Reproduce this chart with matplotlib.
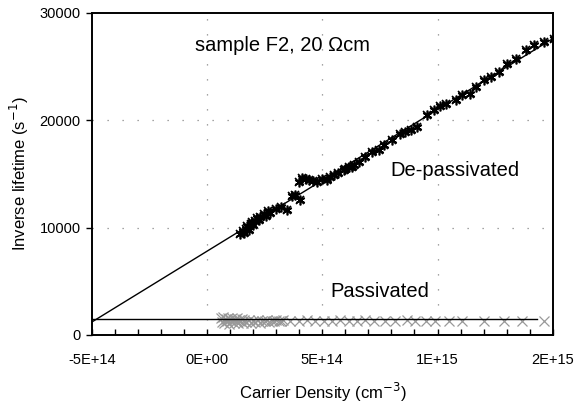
import matplotlib
matplotlib.use("Agg")
import matplotlib.pyplot as plt
from matplotlib.ticker import MultipleLocator, FixedLocator, FixedFormatter
import numpy as np

plt.rcParams['font.family'] = ['Liberation Sans', 'DejaVu Sans']

# ---------------- data ----------------
# De-passivated (carrier density in 1e14 cm^-3, inverse lifetime s^-1)
dep_x = [1.45, 1.55, 1.6, 1.7, 1.75, 1.8, 1.9, 1.95, 2.0, 2.1, 2.15, 2.25, 2.3, 2.45,
         2.55, 2.65, 2.75, 3.0, 3.2, 3.47, 3.7, 3.83, 4.04, 3.97, 4.12, 4.3, 4.41, 4.6,
         4.77, 5.0, 5.2, 5.35, 5.49, 5.7, 5.93, 6.0, 6.15, 6.29, 6.36, 6.58, 6.87, 7.16,
         7.45, 7.67, 8.03, 8.39, 8.6, 8.83, 9.12, 9.55, 9.84, 10.1, 10.35, 10.78, 11.07,
         11.43, 11.65, 12.01, 12.30, 12.67, 13.03, 13.39, 13.83, 14.19, 14.63, 15.06]
dep_y = [9400, 9700, 9500, 9900, 10100, 9800, 10300, 10500, 10200, 10600, 10900, 10700,
         11000, 11300, 11100, 11500, 11400, 11700, 11900, 11630, 12900, 13000, 12560,
         14260, 14580, 14500, 14420, 14300, 14260, 14500, 14420, 14700, 14880, 15100,
         15350, 15500, 15600, 15660, 15810, 16120, 16590, 17050, 17210, 17670, 18140,
         18760, 18900, 19070, 19380, 20470, 20930, 21300, 21500, 21860, 22330, 22480,
         23100, 23720, 24030, 24500, 25270, 25740, 26510, 26980, 27290, 27600]

# Passivated
pas_x = [0.6, 0.65, 0.7, 0.75, 0.8, 0.85, 0.9, 0.95, 1.0, 1.05, 1.1, 1.15, 1.2, 1.25,
         1.3, 1.35, 1.4, 1.45, 1.5, 1.55, 1.6, 1.7, 1.8, 1.9, 2.0, 2.1, 2.2, 2.3, 2.4,
         2.5, 2.6, 2.7, 2.8, 2.9, 3.0, 3.1, 3.2, 3.3, 3.61, 3.97, 4.33, 4.70, 5.06, 5.42,
         5.78, 6.14, 6.51, 6.87, 7.23, 7.74, 8.17, 8.68, 9.04, 9.48, 9.91, 10.49, 11.07,
         12.01, 12.88, 13.68, 14.62]
pas_y = [1550, 1200, 1650, 1100, 1500, 1300, 1600, 1050, 1450, 1250, 1600, 1150, 1500,
         1300, 1550, 1100, 1400, 1250, 1450, 1150, 1350, 1200, 1400, 1100, 1300, 1200,
         1350, 1150, 1300, 1250, 1350, 1200, 1300, 1250, 1350, 1300, 1250, 1350, 1300,
         1300, 1350, 1300, 1320, 1300, 1350, 1300, 1320, 1350, 1300, 1330, 1300, 1350,
         1320, 1300, 1330, 1300, 1320, 1300, 1330, 1300, 1320]

# Fits
dep_fit_x = [-5.0, 15.0]
dep_fit_y = [1200, 27600]
pas_fit_x = [-5.0, 14.3]
pas_fit_y = [1460, 1460]

x_ticks = [-5, 0, 5, 10, 15]
x_ticklabels = ["-5E+14", "0E+00", "5E+14", "1E+15", "2E+15"]
y_ticks = [0, 10000, 20000, 30000]

# ---------------- figure ----------------
fig = plt.figure(figsize=(5.74, 4.03), dpi=100)
ax = fig.add_axes([0.160, 0.169, 0.803, 0.799])

ax.plot(dep_fit_x, dep_fit_y, color='black', lw=1.0, zorder=2)
ax.plot(pas_fit_x, pas_fit_y, color='black', lw=1.0, zorder=3)
ax.plot(pas_x, pas_y, linestyle='none', marker='x', ms=7, mew=0.9,
        color='#999999', zorder=2)
ax.plot(dep_x, dep_y, linestyle='none', marker=(6, 2, 0), ms=7, mew=1.2,
        color='black', zorder=4)
ax.plot(dep_x, dep_y, linestyle='none', marker='x', ms=5.5, mew=1.2,
        color='black', zorder=4)

ax.set_xlim(-5, 15)
ax.set_ylim(0, 30000)

ax.xaxis.set_major_locator(FixedLocator(x_ticks))
ax.xaxis.set_major_formatter(FixedFormatter(x_ticklabels))
ax.xaxis.set_minor_locator(MultipleLocator(1))
ax.set_yticks(y_ticks)

ax.tick_params(axis='x', which='both', direction='in', length=4, width=1,
               labelsize=10.5, pad=13)
ax.tick_params(axis='y', which='major', direction='out', length=4, width=1,
               labelsize=10.5, pad=4)

for s in ax.spines.values():
    s.set_linewidth(1.4)

for gx in [0, 5, 10]:
    ax.axvline(gx, color='#888888', lw=0.9, ls=(0, (1, 11)), zorder=1)
for gy in [10000, 20000]:
    ax.axhline(gy, color='#888888', lw=0.9, ls=(0, (1, 11)), zorder=1)

ax.set_xlabel("Carrier Density (cm$^{-3}$)", fontsize=12, labelpad=10)
ax.set_ylabel("Inverse lifetime (s$^{-1}$)", fontsize=12, labelpad=6)

ax.text(-0.52, 26980, "sample F2, 20 \u03A9cm", fontsize=14.5, va='center', ha='left')
ax.text(7.96, 15350, "De-passivated", fontsize=14.5, va='center', ha='left')
ax.text(5.35, 4000, "Passivated", fontsize=14.5, va='center', ha='left')

fig.savefig("out.png", dpi=100)
